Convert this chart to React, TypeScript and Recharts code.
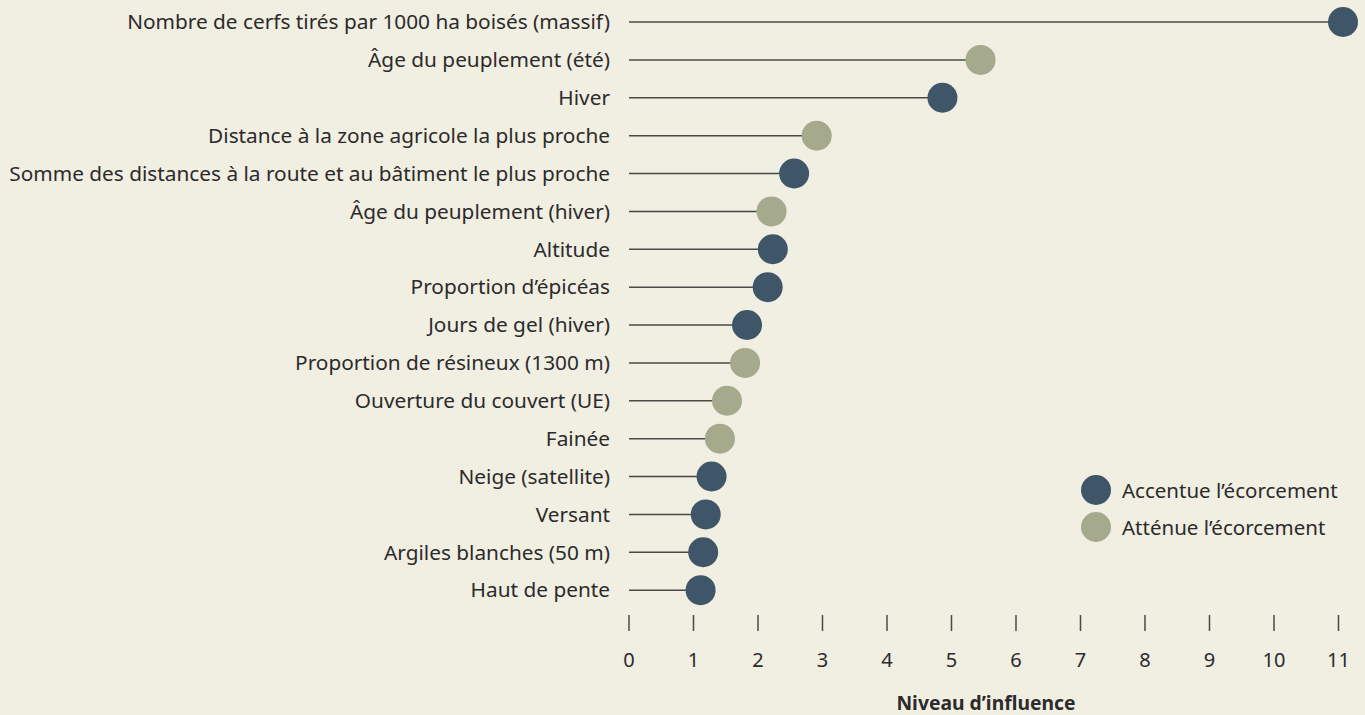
import { Bar, BarChart, Cell, XAxis, YAxis } from "recharts";

const categories = [
  "Nombre de cerfs tirés par 1000 ha boisés (massif)",
  "Âge du peuplement (été)",
  "Hiver",
  "Distance à la zone agricole la plus proche",
  "Somme des distances à la route et au bâtiment le plus proche",
  "Âge du peuplement (hiver)",
  "Altitude",
  "Proportion d’épicéas",
  "Jours de gel (hiver)",
  "Proportion de résineux (1300 m)",
  "Ouverture du couvert (UE)",
  "Fainée",
  "Neige (satellite)",
  "Versant",
  "Argiles blanches (50 m)",
  "Haut de pente",
];
const influence = [11.07, 5.45, 4.86, 2.91, 2.56, 2.21, 2.23, 2.15, 1.83, 1.8, 1.52, 1.41, 1.28, 1.19, 1.15, 1.11];
// true = accentue, false = atténue
const accentue = [true, false, true, false, true, false, true, true, true, false, false, false, true, true, true, true];
const xTicks = [0, 1, 2, 3, 4, 5, 6, 7, 8, 9, 10, 11];
const legendItems = [
  { label: "Accentue l’écorcement", kind: true },
  { label: "Atténue l’écorcement", kind: false },
];

const DARK = "#3f5668";
const LIGHT = "#a5aa8c";
const BG = "#f1eee2";
const TEXT = "#2b2b2b";
const FONT = "'Noto Sans', sans-serif";

const data = categories.map((name, i) => ({ name, value: influence[i], up: accentue[i] }));

function Lollipop(props: any) {
  const { x, y, width, height, fill } = props;
  const cy = y + height / 2;
  return (
    <g>
      <line x1={x} x2={x + width} y1={cy} y2={cy} stroke="#4a4a45" strokeWidth={1.5} />
      <circle cx={x + width} cy={cy} r={15} fill={fill} />
    </g>
  );
}

function XTick(props: any) {
  const { x, y, payload } = props;
  return (
    <g>
      <line x1={x} x2={x} y1={y + 6} y2={y + 22} stroke="#4a4a45" strokeWidth={1.5} />
      <text x={x} y={y + 58} textAnchor="middle" fill={TEXT} fontSize={20} fontFamily={FONT}>
        {payload.value}
      </text>
    </g>
  );
}

function LegendBox() {
  return (
    <div style={{ position: "absolute", left: 1081, top: 471, fontFamily: FONT, fontSize: 20.5, color: TEXT }}>
      {legendItems.map((it) => (
        <div key={it.label} style={{ display: "flex", alignItems: "center", height: 37 }}>
          <svg width={30} height={30} style={{ marginRight: 11 }}>
            <circle cx={15} cy={15} r={15} fill={it.kind ? DARK : LIGHT} />
          </svg>
          <span>{it.label}</span>
        </div>
      ))}
    </div>
  );
}

export default function App() {
  return (
    <div style={{ position: "fixed", left: 0, top: 0, width: 1365, height: 715, background: BG }}>
      <BarChart
        width={1365}
        height={715}
        data={data}
        layout="vertical"
        margin={{ top: 3, right: 22, bottom: 0, left: 0 }}
        barSize={10}
      >
        <XAxis
          type="number"
          domain={[0, 11]}
          ticks={xTicks}
          interval={0}
          axisLine={false}
          tickLine={false}
          tickSize={0}
          tickMargin={0}
          height={106}
          tick={<XTick />}
          label={({ viewBox }: any) => (
            <text
              x={viewBox.x + viewBox.width / 2}
              y={viewBox.y + 101}
              textAnchor="middle"
              fill={TEXT}
              fontSize={19.3}
              fontWeight={700}
              fontFamily={FONT}
            >
              Niveau d’influence
            </text>
          )}
        />
        <YAxis
          type="category"
          dataKey="name"
          width={629}
          axisLine={false}
          tickLine={false}
          tickSize={0}
          tickMargin={19}
          interval={0}
          tick={{ fill: TEXT, fontSize: 20.8, fontFamily: FONT }}
        />
        <Bar dataKey="value" shape={<Lollipop />} isAnimationActive={false}>
          {data.map((d) => (
            <Cell key={d.name} fill={d.up ? DARK : LIGHT} />
          ))}
        </Bar>
      </BarChart>
      <LegendBox />
    </div>
  );
}
